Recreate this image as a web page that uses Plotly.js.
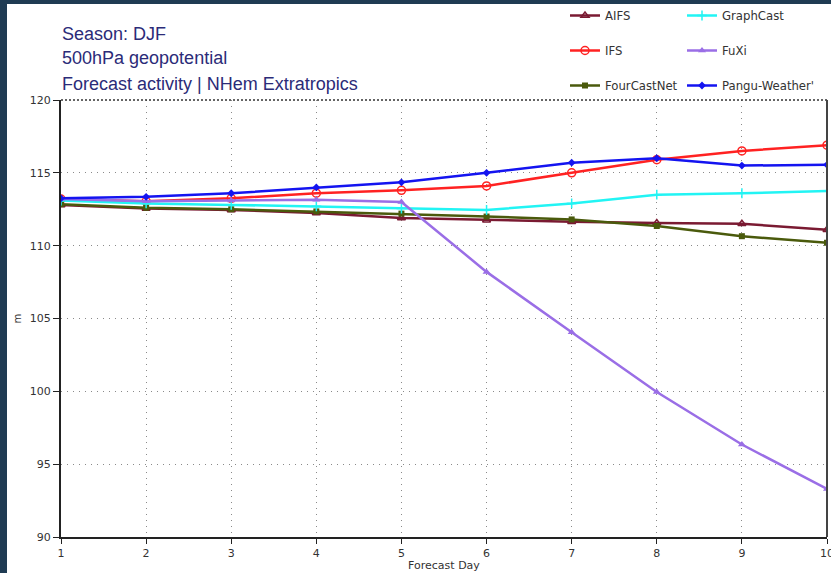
<!DOCTYPE html>
<html>
<head>
<meta charset="utf-8">
<script src="https://cdn.plot.ly/plotly-3.0.1.min.js"></script>
<style>
  html, body { margin: 0; padding: 0; background: #1f3b53; width: 831px; height: 573px; overflow: hidden; }
  #chart { position: absolute; left: 7px; top: 4px; width: 824px; height: 569px; }
</style>
</head>
<body>
<div id="chart"></div>
<script>
const days = [1, 2, 3, 4, 5, 6, 7, 8, 9, 10];
const aifs        = [112.8, 112.55, 112.45, 112.25, 111.9, 111.75, 111.65, 111.55, 111.5, 111.1];
const ifs         = [113.2, 113.05, 113.25, 113.6, 113.8, 114.1, 115.0, 115.9, 116.5, 116.9];
const fourcastnet = [112.85, 112.6, 112.5, 112.35, 112.2, 112.0, 111.8, 111.35, 110.65, 110.2];
const graphcast   = [113.1, 112.9, 112.8, 112.7, 112.55, 112.45, 112.9, 113.5, 113.6, 113.75];
const fuxi        = [113.2, 113.05, 113.1, 113.15, 113.0, 108.2, 104.05, 99.95, 96.35, 93.3];
const pangu       = [113.25, 113.35, 113.6, 114.0, 114.35, 115.0, 115.7, 116.0, 115.5, 115.55];
const yTicks = [90, 95, 100, 105, 110, 115, 120];
const titleLines = ["Season: DJF", "500hPa geopotential", "Forecast activity | NHem Extratropics"];

const W = 824, H = 569, ML = 54, MR = 4, MT = 96, MB = 36;
const PW = W - ML - MR, PH = H - MT - MB;

function tr(name, y, color, symbol, size, legend, group) {
  const open = symbol.indexOf('open') >= 0;
  return {
    x: days, y: y, name: name, type: 'scatter', mode: 'lines+markers',
    line: {color: color, width: 2.5},
    marker: {color: color, symbol: symbol, size: size, line: {color: color, width: open ? 1.5 : 0}},
    legend: legend, legendgroup: group
  };
}

const data = [
  tr('AIFS', aifs, '#7a1a32', 'triangle-up-open', 7, 'legend', 'a'),
  tr('IFS', ifs, '#ff2222', 'circle-open', 8, 'legend', 'b'),
  tr('FourCastNet', fourcastnet, '#4a5a0c', 'square', 6, 'legend', 'c'),
  tr('GraphCast', graphcast, '#22f4f4', 'cross-thin-open', 7, 'legend2', 'd'),
  tr('FuXi', fuxi, '#9a6ee6', 'triangle-up', 7, 'legend2', 'e'),
  tr("Pangu-Weather'", pangu, '#1414f0', 'diamond', 6, 'legend2', 'f')
];

const annotations = titleLines.map((t, i) => ({
  text: t, xref: 'paper', yref: 'paper', x: (53 - ML) / PW, y: 1 + (MT - (29.5 + 25 * i)) / PH,
  xanchor: 'left', yanchor: 'middle', showarrow: false,
  font: {family: 'Liberation Sans, Arial, sans-serif', size: 18, color: '#2b2b78'}
}));
annotations.push({
  text: 'm', xref: 'paper', yref: 'y', x: -44 / PW, y: 105, textangle: -90,
  xanchor: 'center', yanchor: 'middle', showarrow: false,
  font: {family: 'DejaVu Sans, sans-serif', size: 10, color: '#333'}
});

const legendCommon = {
  xref: 'container', yref: 'paper', xanchor: 'left', yanchor: 'top',
  bgcolor: 'rgba(0,0,0,0)', itemwidth: 30, tracegroupgap: 16,
  font: {family: 'DejaVu Sans, sans-serif', size: 11.7, color: '#333'}
};

const gridDash = '1px,5px';
const legTop = 1 + (MT + 3) / PH;

const layout = {
  width: W, height: H,
  margin: {l: ML, r: MR, t: MT, b: MB, autoexpand: false},
  paper_bgcolor: '#ffffff', plot_bgcolor: '#ffffff',
  showlegend: true,
  legend: Object.assign({}, legendCommon, {x: 558 / W, y: legTop}),
  legend2: Object.assign({}, legendCommon, {x: 675 / W, y: legTop}),
  xaxis: {
    range: [1, 10], tickvals: days, ticktext: days.map(String),
    showgrid: true, gridcolor: '#8a8a8a', griddash: gridDash, gridwidth: 1.2,
    zeroline: false, showline: true, linecolor: '#222', linewidth: 2,
    ticks: 'outside', ticklen: 5, tickcolor: '#222', tickwidth: 1,
    ticklabeloverflow: 'allow',
    tickfont: {family: 'DejaVu Sans, sans-serif', size: 11, color: '#333'},
    title: {text: 'Forecast Day', standoff: 2, font: {family: 'DejaVu Sans, sans-serif', size: 11, color: '#333'}},
    fixedrange: true
  },
  yaxis: {
    range: [90, 120], tickvals: yTicks,
    showgrid: true, gridcolor: '#8a8a8a', griddash: gridDash, gridwidth: 1.2,
    zeroline: false, showline: true, linecolor: '#222', linewidth: 2,
    ticks: 'outside', ticklen: 6, tickcolor: '#222', tickwidth: 1,
    tickfont: {family: 'DejaVu Sans, sans-serif', size: 11, color: '#333'},
    fixedrange: true
  },
  shapes: [
    {type: 'line', xref: 'paper', yref: 'paper', x0: 0, x1: 1, y0: 1, y1: 1,
     line: {color: '#333', width: 1.5, dash: '2px,2px'}},
    {type: 'line', xref: 'paper', yref: 'paper', x0: 1, x1: 1, y0: 0, y1: 1,
     line: {color: '#444', width: 2}}
  ],
  annotations: annotations
};

Plotly.newPlot('chart', data, layout, {displayModeBar: false, staticPlot: true});
</script>
</body>
</html>
